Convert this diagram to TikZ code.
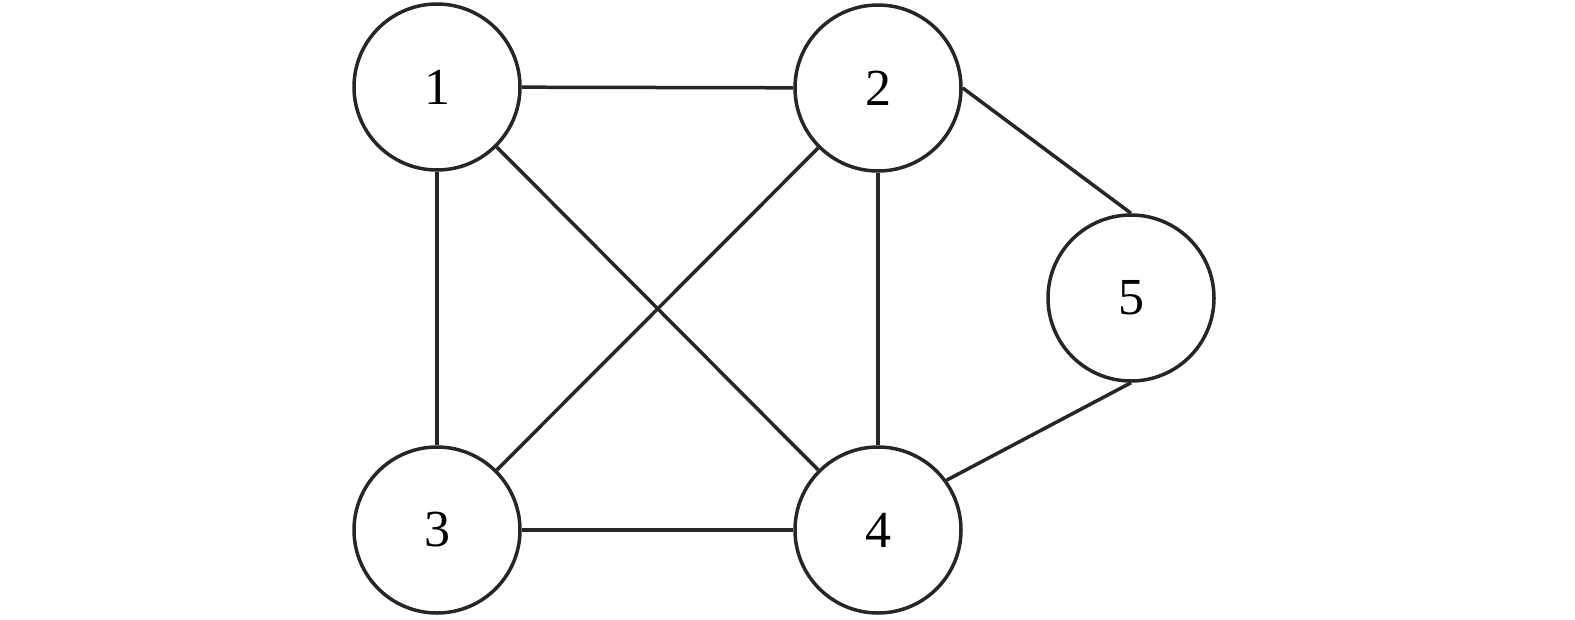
\documentclass[tikz,border=0pt]{standalone}
\usepackage{fontspec}
\setmainfont{Liberation Serif}
\begin{document}
\begin{tikzpicture}[x=1pt,y=-1pt,
  vert/.style={draw=black!85,circle,line width=3.5pt,minimum size=166pt,inner sep=0pt,font=\fontsize{52}{52}\selectfont},
  edge/.style={draw=black!85,line width=3.5pt}]
\useasboundingbox (0,0) rectangle (1575,619);
\node[vert] (n1) at (437,87) {1};
\node[vert] (n2) at (878,88) {2};
\node[vert] (n3) at (437,530) {3};
\node[vert] (n4) at (878,530) {4};
\node[vert] (n5) at (1131,298) {5};
\draw[edge] (n1) -- (n2);
\draw[edge] (n1) -- (n3);
\draw[edge] (n1) -- (n4);
\draw[edge] (n2) -- (n3);
\draw[edge] (n2) -- (n4);
\draw[edge] (n3) -- (n4);
\draw[edge] (n2.east) -- (n5.north);
\draw[edge] (n4.36) -- (n5.south);
\end{tikzpicture}
\end{document}
